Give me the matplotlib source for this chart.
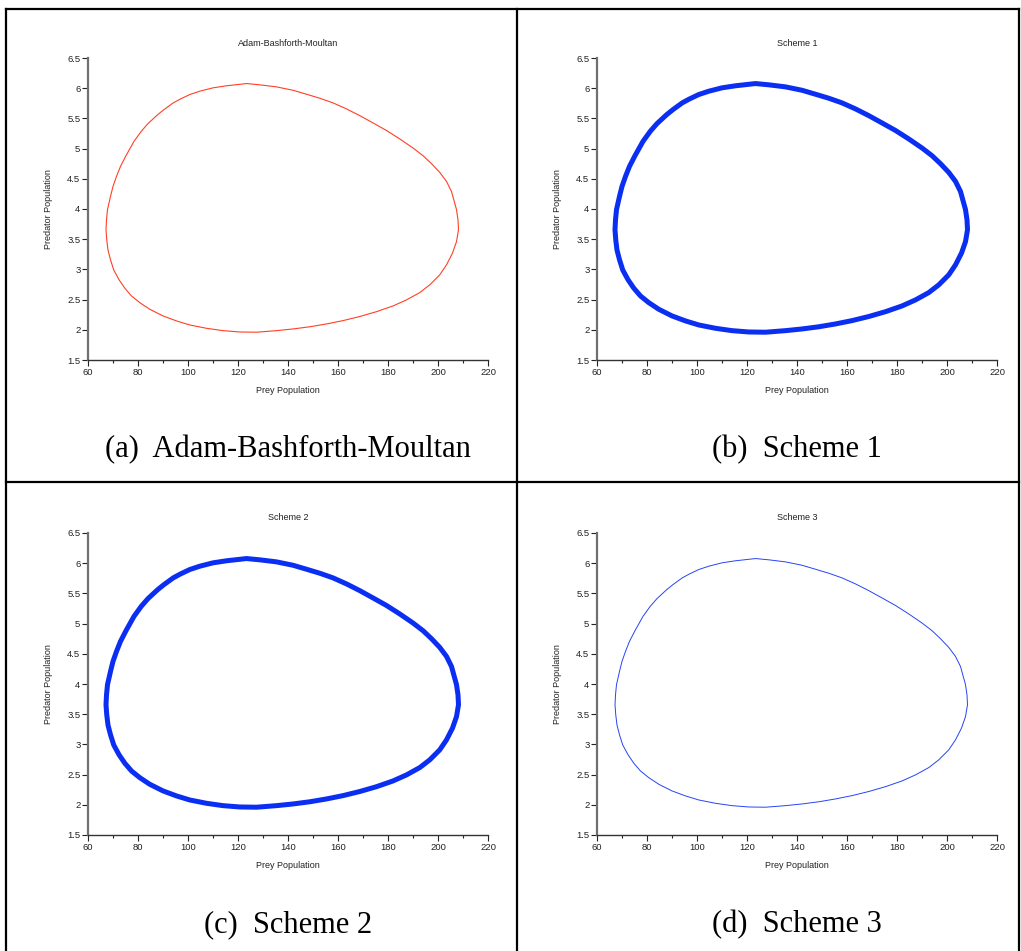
import matplotlib
matplotlib.use("Agg")
import matplotlib.pyplot as plt
from matplotlib.lines import Line2D
from matplotlib.ticker import MultipleLocator

# phase-plane orbit (prey, predator), clockwise from the top
prey = [123.4, 128.7, 135.4, 142.0, 147.4, 152.7, 158.0, 163.4, 168.7, 174.0,
        179.4, 184.7, 190.0, 194.0, 197.4, 200.7, 203.4, 205.4, 207.4, 208.0,
        208.2, 207.4, 205.8, 203.4, 200.7, 196.7, 192.7, 187.4, 182.0, 175.4,
        168.7, 162.0, 155.4, 148.7, 142.0, 135.4, 127.4, 120.7, 114.0, 107.4,
        100.7, 95.4, 90.0, 84.7, 80.7, 77.4, 74.7, 72.4, 70.3, 69.0,
        68.0, 67.5, 67.2, 67.4, 67.8, 69.0, 70.0, 71.4, 73.0, 75.2,
        78.4, 81.3, 84.0, 87.9, 90.4, 94.1, 96.9, 100.7, 104.7, 110.0,
        115.4]
predator = [6.077, 6.056, 6.022, 5.966, 5.90, 5.834, 5.757, 5.657, 5.546, 5.425,
            5.30, 5.16, 5.01, 4.883, 4.75, 4.606, 4.457, 4.29, 3.99, 3.82,
            3.656, 3.46, 3.27, 3.075, 2.91, 2.744, 2.616, 2.495, 2.395, 2.30,
            2.22, 2.152, 2.097, 2.05, 2.014, 1.986, 1.96, 1.964, 1.986, 2.025,
            2.08, 2.147, 2.23, 2.34, 2.45, 2.56, 2.69, 2.83, 2.99, 3.16,
            3.32, 3.49, 3.656, 3.82, 3.99, 4.208, 4.374, 4.54, 4.706, 4.883,
            5.12, 5.286, 5.414, 5.563, 5.646, 5.757, 5.82, 5.895, 5.95, 6.006,
            6.04]

titles = ["Adam-Bashforth-Moultan", "Scheme 1", "Scheme 2", "Scheme 3"]
captions = ["(a)  Adam-Bashforth-Moultan", "(b)  Scheme 1", "(c)  Scheme 2", "(d)  Scheme 3"]
colors = ["#ff4026", "#0a2ef2", "#0a2ef2", "#2644f5"]
widths = [0.8, 3.6, 3.6, 0.7]

W, H = 1021, 951
fig = plt.figure(figsize=(W / 100, H / 100), dpi=100)
plt.rcParams["font.family"] = ["Liberation Sans", "DejaVu Sans"]

# axes boxes in pixels: (left, top)
origins = [(88, 58), (597, 58), (88, 533), (597, 533)]
aw, ah = 400, 302

for i in range(4):
    x0, y0 = origins[i]
    ax = fig.add_axes([x0 / W, 1 - (y0 + ah) / H, aw / W, ah / H])
    # closed orbit, drawn as an unfilled polygon so the ends join cleanly
    ax.fill(prey, predator, facecolor="none", edgecolor=colors[i], lw=widths[i],
            joinstyle="round")
    ax.set_xlim(60, 220)
    ax.set_ylim(1.5, 6.5)
    ax.xaxis.set_major_locator(MultipleLocator(20))
    ax.xaxis.set_minor_locator(MultipleLocator(10))
    ax.set_yticks([1.5, 2, 2.5, 3, 3.5, 4, 4.5, 5, 5.5, 6, 6.5])
    ax.set_yticklabels(["1.5", "2", "2.5", "3", "3.5", "4", "4.5", "5", "5.5", "6", "6.5"])
    for s in ["top", "right"]:
        ax.spines[s].set_visible(False)
    ax.spines["left"].set_color("#707070")
    ax.spines["left"].set_linewidth(1.6)
    ax.spines["bottom"].set_color("#333333")
    ax.spines["bottom"].set_linewidth(1.0)
    ax.tick_params(axis="both", which="major", direction="out", length=4, width=0.8,
                   labelsize=6.8, colors="#222222", pad=1.5)
    ax.tick_params(axis="x", which="minor", direction="out", length=2.5, width=0.8, colors="#222222")
    ax.set_title(titles[i], fontsize=6.5, color="#222222", pad=9)
    ax.set_xlabel("Prey Population", fontsize=6.5, color="#222222", labelpad=7)
    ax.set_ylabel("Predator Population", fontsize=6.5, color="#222222", labelpad=10)

    fig.text((x0 + aw / 2) / W, 1 - (y0 + 392) / H, captions[i], fontsize=22,
             family="Liberation Serif", ha="center", va="center")

# cell borders
lk = dict(color="black", lw=1.6, transform=fig.transFigure)
fig.add_artist(Line2D([6 / W, 1019 / W], [1 - 9 / H, 1 - 9 / H], **lk))
fig.add_artist(Line2D([6 / W, 1019 / W], [1 - 482 / H, 1 - 482 / H], **lk))
fig.add_artist(Line2D([6 / W, 6 / W], [1 - 9 / H, 0], **lk))
fig.add_artist(Line2D([517 / W, 517 / W], [1 - 9 / H, 0], **lk))
fig.add_artist(Line2D([1019 / W, 1019 / W], [1 - 9 / H, 0], **lk))

fig.savefig("out.png", dpi=100)
